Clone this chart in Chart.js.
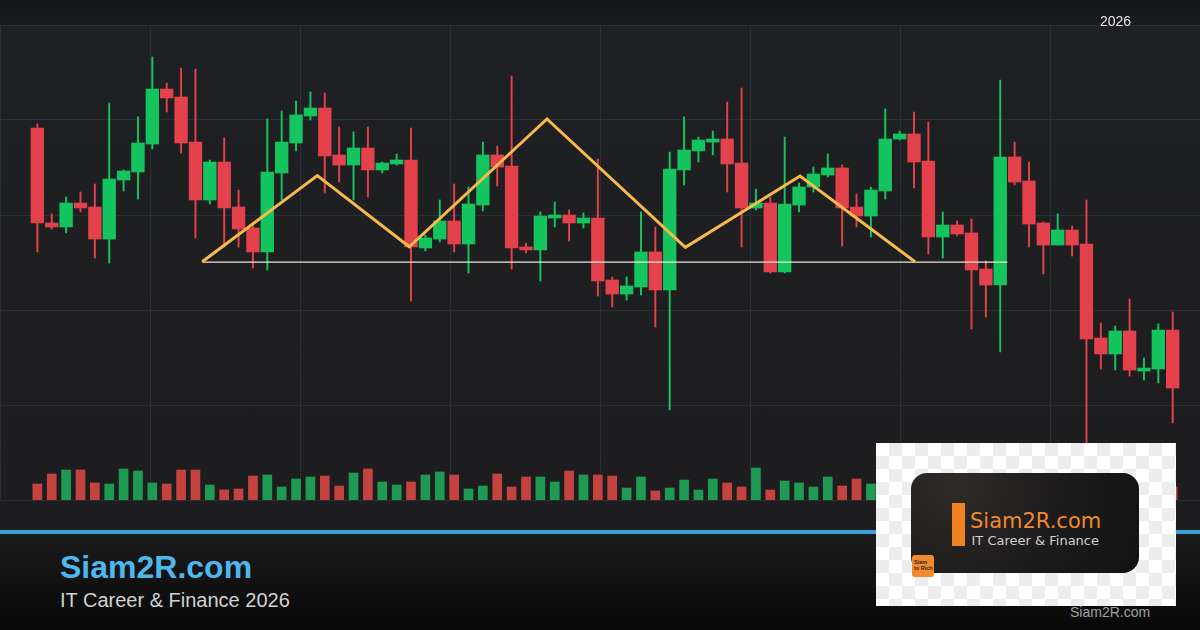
<!DOCTYPE html>
<html>
<head>
<meta charset="utf-8">
<script src="https://cdn.jsdelivr.net/npm/chart.js@4.4.1/dist/chart.umd.min.js"></script>
<style>
  html, body { margin: 0; padding: 0; }
  body { width: 1200px; height: 630px; position: relative; overflow: hidden;
         background: #1e1f21; font-family: "Liberation Sans", Arial, sans-serif; }
  #topband { position: absolute; left: 0; top: 0; width: 1200px; height: 25px;
             background: linear-gradient(#151619, #1a1b1e); }
  #plotbg { position: absolute; left: 0; top: 25px; width: 1200px; height: 505px;
            background: linear-gradient(#1f2023, #1d1d1f); }
  #chartwrap { position: absolute; left: 0; top: 0; width: 1200px; height: 502px; }
  #blueline { position: absolute; left: 0; top: 530px; width: 1200px; height: 4px; background: #3d9fd3; }
  #footer { position: absolute; left: 0; top: 534px; width: 1200px; height: 96px;
            background: linear-gradient(#1b1b1b, #080808); }
  .t { position: absolute; white-space: nowrap; }
  #brand { left: 60px; top: 551px; font-size: 32px; line-height: 32px; font-weight: bold; color: #4db7ee; }
  #tag { left: 60px; top: 590px; font-size: 20px; line-height: 20px; color: #d2d2d2; }
  #year { left: 1100px; top: 13.5px; font-size: 14px; line-height: 14px; color: #e6e6e6; }
  #wm { left: 1070px; top: 604.5px; font-size: 14px; line-height: 14px; color: #a0a0a0; }
  #logo { position: absolute; left: 876px; top: 443px; width: 300px; height: 163px;
          background-color: #ffffff;
          background-image: conic-gradient(#ededed 25%, transparent 0 50%, #ededed 0 75%, transparent 0);
          background-size: 26px 26px; }
  #card { position: absolute; left: 35px; top: 30px; width: 228px; height: 100px; border-radius: 16px;
          background: radial-gradient(circle at 20% 10%, #2e2a28 0%, #1c1b1b 55%, #121212 100%); }
  #obar { position: absolute; left: 41px; top: 30px; width: 13px; height: 43px; background: #f0821f; }
  #otext { position: absolute; left: 59px; top: 37.5px; font-family: "DejaVu Sans", sans-serif;
           font-size: 21px; line-height: 21px; color: #f08a2c; white-space: nowrap; }
  #gtext { position: absolute; left: 60.5px; top: 61px; font-family: "DejaVu Sans", sans-serif;
           font-size: 13px; line-height: 13px; color: #cfcfcf; white-space: nowrap; }
  #badge { position: absolute; left: 1px; top: 82px; width: 22px; height: 22px; border-radius: 3px;
           background: #f08a2c; }
  #badge span { position: absolute; left: 2px; top: 4px; font-size: 5.5px; line-height: 6px;
                color: #3a2414; font-weight: bold; white-space: nowrap; }
</style>
</head>
<body>
<div id="topband"></div>
<div id="plotbg"></div>
<div id="chartwrap"><canvas id="c" width="1200" height="502"></canvas></div>
<div id="blueline"></div>
<div id="footer"></div>
<div class="t" id="brand">Siam2R.com</div>
<div class="t" id="tag">IT Career &amp; Finance 2026</div>
<div class="t" id="year">2026</div>
<div class="t" id="wm">Siam2R.com</div>
<div id="logo">
  <div id="card">
    <div id="obar"></div>
    <div id="otext">Siam2R.com</div>
    <div id="gtext">IT Career &amp; Finance</div>
    <div id="badge"><span>Siam<br>to Rich</span></div>
  </div>
</div>
<script>
// ---- data ----
const openPrices = [99.16, 89.16, 88.74, 91.26, 90.84, 87.47, 93.68, 94.53, 97.47, 103.26,
  102.42, 97.68, 91.58, 95.58, 90.84, 88.63, 86.11, 94.42, 97.58, 100.42,
  101.26, 96.32, 95.26, 97.05, 94.74, 95.37, 95.79, 86.53, 87.47, 89.37,
  86.95, 91.05, 96.32, 95.16, 86.63, 86.32, 89.68, 90.00, 89.16, 89.68,
  83.16, 81.68, 82.42, 86.11, 82.11, 94.74, 96.74, 97.68, 98.00, 95.47,
  90.74, 91.26, 84.00, 91.05, 92.95, 94.21, 94.95, 90.84, 89.89, 92.53,
  98.00, 98.53, 95.68, 87.68, 88.95, 88.11, 84.32, 82.63, 96.11, 93.58,
  89.16, 86.84, 88.42, 86.95, 77.05, 75.37, 77.79, 73.58, 73.79, 77.89];
const closePrices = [89.16, 88.74, 91.26, 90.74, 87.47, 93.79, 94.63, 97.58, 103.26, 102.32,
  97.58, 91.58, 95.58, 90.74, 88.53, 86.11, 94.53, 97.68, 100.53, 101.26,
  96.21, 95.26, 97.05, 94.74, 95.47, 95.79, 86.63, 87.58, 89.37, 86.95,
  91.16, 96.32, 95.05, 86.53, 86.32, 89.89, 90.00, 89.16, 89.68, 83.05,
  81.68, 82.53, 86.11, 82.11, 94.84, 96.84, 97.89, 98.00, 95.37, 90.74,
  91.26, 84.00, 91.16, 92.95, 94.32, 94.95, 90.74, 89.89, 92.63, 98.00,
  98.53, 95.58, 87.68, 88.95, 88.00, 84.21, 82.63, 96.11, 93.47, 89.05,
  86.84, 88.42, 86.84, 76.95, 75.37, 77.79, 73.68, 73.89, 77.89, 71.79];
const highPrices = [99.58, 90.11, 91.89, 92.42, 93.26, 101.79, 94.74, 100.32, 106.63, 103.89,
  105.47, 105.37, 95.79, 98.11, 92.63, 88.84, 100.11, 100.95, 102.00, 102.95,
  102.84, 99.26, 98.74, 99.26, 95.58, 96.42, 99.16, 87.89, 91.58, 93.26,
  92.95, 97.68, 97.26, 104.63, 87.05, 90.32, 91.37, 90.53, 90.21, 95.89,
  83.47, 83.47, 90.32, 88.74, 96.63, 100.32, 98.21, 98.84, 101.89, 103.37,
  92.74, 91.89, 98.21, 93.37, 95.05, 96.42, 95.26, 92.21, 92.95, 101.16,
  98.84, 100.84, 99.79, 90.32, 89.37, 89.58, 85.16, 104.21, 97.68, 95.58,
  89.26, 90.11, 88.84, 91.58, 78.63, 78.32, 81.16, 74.95, 78.53, 79.79];
const lowPrices = [86.11, 88.53, 88.11, 90.32, 85.47, 84.95, 92.53, 91.68, 96.95, 100.84,
  96.53, 87.58, 91.16, 86.63, 86.63, 84.42, 84.21, 91.58, 96.74, 100.00,
  92.32, 93.47, 91.58, 91.89, 94.42, 95.26, 80.95, 86.21, 87.16, 86.11,
  83.89, 90.42, 93.05, 84.32, 86.00, 83.05, 88.74, 87.26, 88.63, 81.47,
  80.32, 81.05, 81.58, 78.21, 69.47, 93.16, 95.58, 96.32, 92.42, 86.63,
  90.53, 83.89, 83.89, 90.32, 92.42, 94.00, 86.74, 88.74, 87.68, 91.68,
  97.89, 92.84, 85.89, 85.47, 87.79, 78.00, 79.26, 75.58, 93.16, 86.63,
  83.79, 86.84, 85.68, 65.26, 73.79, 73.68, 73.05, 72.63, 72.32, 68.11];
const volumes = [1.6, 2.6, 3.0, 3.0, 1.7, 1.6, 3.1, 2.9, 1.7, 1.6,
  3.0, 3.0, 1.5, 1.0, 1.1, 2.4, 2.5, 1.3, 2.1, 2.3,
  2.4, 1.4, 2.7, 3.1, 1.8, 1.5, 1.8, 2.5, 2.8, 2.5,
  1.1, 1.4, 2.6, 1.3, 2.3, 2.3, 1.8, 2.9, 2.5, 2.5,
  2.4, 1.2, 2.3, 0.9, 1.2, 2.0, 1.0, 2.1, 1.7, 1.3,
  3.2, 1.0, 1.9, 1.7, 1.3, 2.3, 1.4, 2.1, 1.6, 1.8,
  1.4, 2.0, 2.6, 1.5, 1.2, 2.2, 1.7, 3.3, 2.0, 2.4,
  1.8, 1.3, 1.5, 3.4, 1.9, 1.6, 2.1, 1.1, 2.2, 1.3];
// head-and-shoulders pattern drawn over the candles (x in candle-index units)
const patternX = [11.47, 19.48, 25.88, 35.46, 45.09, 53.07, 61.07];
const patternY = [85.08, 94.14, 86.66, 100.11, 86.60, 94.11, 85.08];
const necklineX = [11.47, 67.49];
const necklineY = [85.05, 85.05];
// axis ranges / ticks
const priceMin = 60, priceMax = 110, priceStep = 10;
const volumeMax = 47.5;
const xMin = -2.6, xMax = 80.9;

// ---- styles ----
const UP = '#14c45f', DOWN = '#e3414b';
const VUP = '#1f9a52', VDOWN = '#c4433f';
const GRID = '#2a2e37';

const idx = openPrices.map((_, i) => i);
const isUp = idx.map(i => closePrices[i] >= openPrices[i]);

const zeroW = s => { s.width = 0; };
const zeroH = s => { s.height = 0; };

new Chart(document.getElementById('c'), {
  type: 'bar',
  data: {
    datasets: [
      {
        type: 'line', order: 1,
        data: patternX.map((x, i) => ({ x, y: patternY[i] })),
        borderColor: '#f6b94a', borderWidth: 3, pointRadius: 0, tension: 0,
        borderJoinStyle: 'miter', yAxisID: 'y'
      },
      {
        type: 'line', order: 1,
        data: necklineX.map((x, i) => ({ x, y: necklineY[i] })),
        borderColor: 'rgba(245,240,228,0.95)', borderWidth: 1.2, pointRadius: 0, tension: 0,
        yAxisID: 'y'
      },
      {
        order: 2, grouped: false, yAxisID: 'y',
        data: idx.map(i => ({ x: i, y: [openPrices[i], closePrices[i]] })),
        backgroundColor: idx.map(i => isUp[i] ? UP : DOWN),
        borderWidth: 0, barThickness: 12.7
      },
      {
        order: 3, grouped: false, yAxisID: 'y',
        data: idx.map(i => ({ x: i, y: [lowPrices[i], highPrices[i]] })),
        backgroundColor: idx.map(i => isUp[i] ? UP : DOWN),
        borderWidth: 0, barThickness: 1.3
      },
      {
        order: 4, grouped: false, yAxisID: 'yv',
        data: idx.map(i => ({ x: i, y: volumes[i] })),
        backgroundColor: idx.map(i => isUp[i] ? VUP : VDOWN),
        borderWidth: 0, barThickness: 9
      }
    ]
  },
  options: {
    responsive: false, animation: false,
    layout: { padding: { top: 25, bottom: 2, left: 0, right: 0 } },
    plugins: { legend: { display: false }, tooltip: { enabled: false } },
    scales: {
      x: { type: 'linear', min: xMin, max: xMax, offset: false, display: false },
      xg: { type: 'linear', min: 0, max: 8, offset: false, position: 'bottom',
            ticks: { display: false, stepSize: 1 },
            grid: { color: GRID, drawTicks: false, offset: false },
            border: { display: false }, afterFit: zeroH },
      y: { type: 'linear', min: priceMin, max: priceMax, position: 'left',
           ticks: { display: false, stepSize: priceStep },
           grid: { color: GRID, drawTicks: false },
           border: { display: false }, afterFit: zeroW },
      yv: { type: 'linear', min: 0, max: volumeMax, display: false }
    }
  }
});
</script>
</body>
</html>
